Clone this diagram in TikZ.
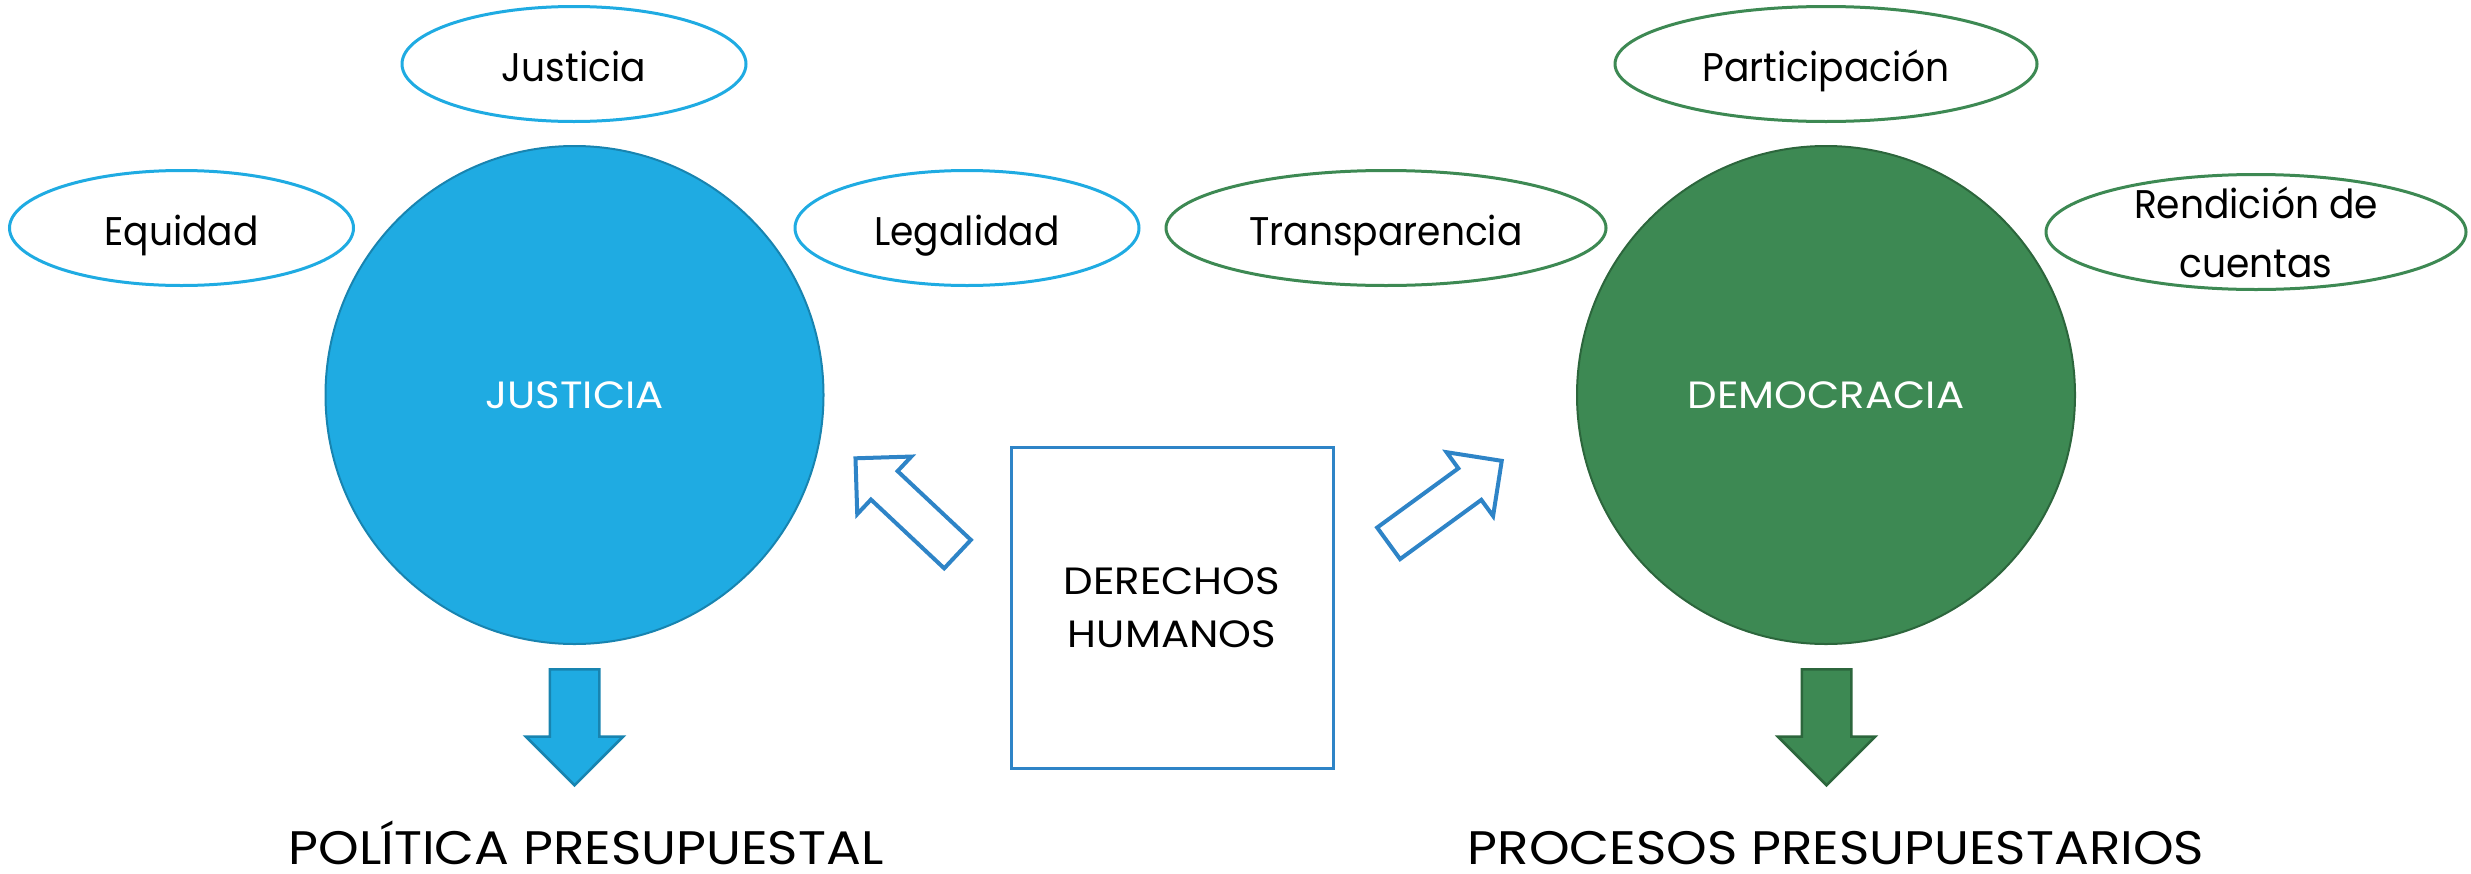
\documentclass[tikz,border=0pt]{standalone}
\usepackage{fontspec}
\setmainfont[FakeStretch=0.94]{Poppins}
\newfontfamily\capsfont[FakeStretch=1.1]{Poppins}
\usetikzlibrary{shapes.geometric,shapes.arrows,positioning}

\definecolor{jusblue}{RGB}{31,171,226}
\definecolor{jusborder}{RGB}{24,132,176}
\definecolor{demgreen}{RGB}{61,137,83}
\definecolor{demborder}{RGB}{44,102,60}
\definecolor{dhblue}{RGB}{46,132,199}

\tikzset{
    bigcircle/.style={circle,minimum size=498pt,line width=2pt,text=white,
        font=\capsfont\fontsize{38}{46}\selectfont},
    jcircle/.style={bigcircle,fill=jusblue,draw=jusborder},
    dcircle/.style={bigcircle,fill=demgreen,draw=demborder},
    idea/.style={ellipse,line width=3pt,fill=white,inner sep=-25pt,align=center,
        minimum height=115pt,text height=38pt,text depth=4pt,
        font=\fontsize{40}{59}\selectfont},
    jidea/.style={idea,draw=jusblue,minimum width=344pt},
    didea/.style={idea,draw=demgreen},
    outarrow/.style={single arrow,single arrow tip angle=90,single arrow head extend=24pt,
        minimum height=116pt,inner xsep=0pt,inner ysep=23.5pt,line width=2.5pt,
        rotate=-90,anchor=tail},
    hollow/.style={single arrow,single arrow tip angle=90,single arrow head extend=20pt,
        minimum height=140pt,inner xsep=0pt,inner ysep=17.5pt,draw=dhblue,line width=4pt,
        fill=white,anchor=tail},
    rights/.style={rectangle,draw=dhblue,line width=3pt,minimum width=322pt,minimum height=321pt,
        align=center,font=\capsfont\fontsize{38}{53}\selectfont},
    title/.style={anchor=base,font=\capsfont\fontsize{47}{56}\selectfont}
}

\begin{document}
\begin{tikzpicture}[x=1pt,y=-1pt]
\useasboundingbox (0,0) rectangle (2471,873);
% justicia
\node[jcircle] (jus) at (574.5,395) {JUSTICIA};
\node[jidea] (justicia) at (574,64) {Justicia};
\node[jidea] (equidad) at (181.5,228) {Equidad};
\node[jidea] (legalidad) at (967,228) {Legalidad};
\node[outarrow,fill=jusblue,draw=jusborder] (jusout) at (574.5,668) {};
\node[title] (politica) at (586,864) {POLÍTICA PRESUPUESTAL};
% democracia
\node[dcircle] (dem) at (1826,395) {DEMOCRACIA};
\node[didea,minimum width=422pt] (participacion) at (1826,64) {Participación};
\node[didea,minimum width=440pt] (transparencia) at (1386,228) {Transparencia};
\node[didea,minimum width=420pt,text height=,text depth=,yshift=-4pt] (rendicion) at (2256,228) {Rendición de\\cuentas};
\node[outarrow,fill=demgreen,draw=demborder] (demout) at (1826.5,668) {};
\node[title] (procesos) at (1836,864) {PROCESOS PRESUPUESTARIOS};
% derechos humanos
\node[rights] (dh) at (1172,607.5) {DERECHOS\\HUMANOS};
\node[hollow,rotate=136.8] (tojus) at (959,555.5) {};
\node[hollow,rotate=36.1] (todem) at (1387,544.5) {};
\end{tikzpicture}
\end{document}
